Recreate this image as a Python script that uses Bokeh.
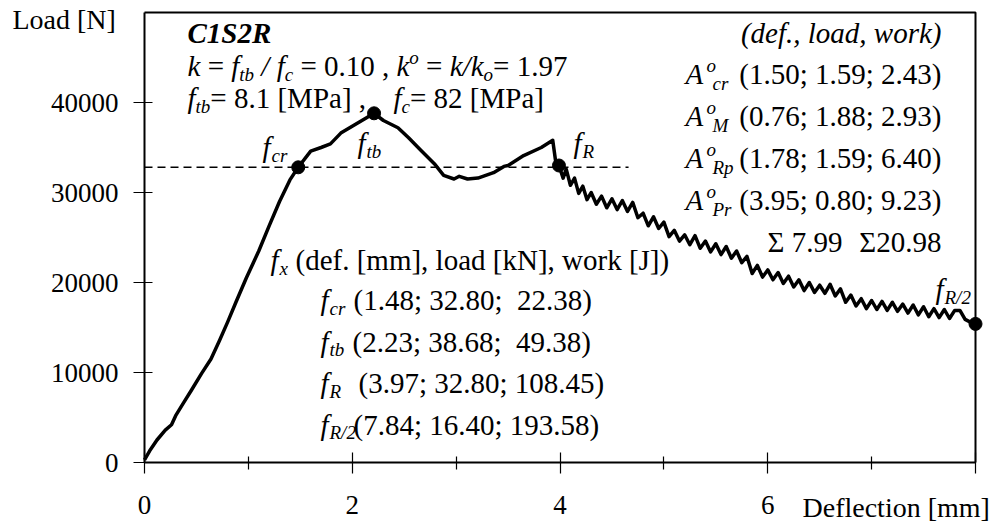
from bokeh.plotting import figure
from bokeh.models import FixedTicker, Range1d
from bokeh.core.properties import value
from bokeh.embed import file_html
from bokeh.resources import INLINE

FONT = "Liberation Serif"

# ---- data (deflection [mm], load [N]) ----
defl = [0.00, 0.05, 0.12, 0.20, 0.26, 0.30, 0.38, 0.45, 0.55, 0.64, 0.72, 0.80, 0.88, 0.98,
        1.10, 1.20, 1.30, 1.40, 1.48, 1.60, 1.70, 1.79, 1.89, 2.02, 2.15, 2.21, 2.30, 2.44,
        2.54, 2.66, 2.79, 2.88, 2.98, 3.03, 3.11, 3.21, 3.36, 3.46, 3.50, 3.65, 3.82, 3.93,
        3.96, 3.99,
        4.03, 4.06, 4.10, 4.14, 4.18, 4.22, 4.26, 4.30, 4.35, 4.40, 4.45, 4.50, 4.55, 4.60,
        4.65, 4.70, 4.75, 4.80, 4.85, 4.90, 4.95, 5.00, 5.05, 5.10, 5.15, 5.20, 5.25, 5.30,
        5.35, 5.40, 5.45, 5.50, 5.55, 5.60, 5.65, 5.70, 5.75, 5.80, 5.85, 5.90, 5.95, 6.00,
        6.05, 6.10, 6.15, 6.20, 6.25, 6.30, 6.35, 6.40, 6.45, 6.50, 6.55, 6.60, 6.65, 6.70,
        6.75, 6.80, 6.85, 6.90, 6.95, 7.00, 7.05, 7.10, 7.15, 7.20, 7.25, 7.30, 7.35, 7.40,
        7.45, 7.50, 7.55, 7.60, 7.65, 7.70, 7.75, 7.80, 7.85, 7.90, 7.95, 8.00]
load = [300, 1300, 2500, 3600, 4200, 5200, 6700, 8000, 9900, 11500, 13500, 15600, 17800, 20500,
        23500, 26300, 29000, 31400, 32800, 34600, 35000, 35400, 36600, 37500, 38400, 38800, 38000, 37200,
        36100, 34700, 33200, 31900, 31500, 31800, 31500, 31600, 32200, 32900, 33000, 34100, 35000, 35800,
        33300, 33000,
        31600, 32600, 30800, 31600, 29900, 30700, 29200, 30000, 28700, 29600, 28300, 29300, 28100, 29100,
        27900, 28900, 27200, 27700, 26300, 27300, 26000, 26700, 25100, 25800, 24600, 25300, 24200, 25200,
        23800, 24600, 23400, 24300, 23100, 24000, 22700, 23500, 22200, 22900, 21000, 21900, 20600, 21400,
        20300, 21100, 19900, 20700, 19500, 20300, 19100, 20000, 18900, 19700, 18800, 19800, 18500, 19300,
        17800, 18600, 17400, 18200, 17100, 18000, 17000, 17900, 16900, 17800, 16800, 17600, 16600, 17500,
        16400, 17300, 16200, 17100, 16100, 17000, 16000, 16900, 16900, 15900, 15600, 15400]

key_x = [1.48, 2.21, 3.99, 8.00]
key_y = [32800, 38800, 33000, 15400]
ref_load = 32800
ref_end = 4.66

x_ticks = [0, 2, 4, 6, 8]
x_minor = [1, 3, 5, 7]
x_overrides = {8: ""}
y_ticks = [0, 10000, 20000, 30000, 40000]

# ---- layout: page pixels of the plotting box ----
W, H = 999, 526
FL, FR, FT, FB = 144, 975, 12, 462
XMAX, YMAX = 8, 50000


def X(px):
    return (px - FL) * XMAX / (FR - FL)


def Y(py):
    return (FB - py) * YMAX / (FB - FT)


p = figure(width=W, height=H, output_backend="svg", toolbar_location=None,
           x_range=Range1d(X(0), X(W)), y_range=Range1d(Y(H), Y(0)),
           min_border=0, min_border_left=0, min_border_right=0,
           min_border_top=0, min_border_bottom=0)
p.xgrid.grid_line_color = None
p.ygrid.grid_line_color = None
p.outline_line_color = None
p.background_fill_color = "white"
p.border_fill_color = "white"

xa = p.xaxis[0]
xa.fixed_location = 0
xa.bounds = (0, XMAX)
xa.ticker = FixedTicker(ticks=x_ticks, minor_ticks=x_minor)
xa.major_label_overrides = x_overrides
xa.axis_line_width = 2
xa.axis_line_color = "black"
xa.major_tick_in = 10
xa.major_tick_out = 11
xa.minor_tick_in = 6
xa.minor_tick_out = 7
xa.major_tick_line_width = 1.2
xa.minor_tick_line_width = 1.2
xa.major_tick_line_color = "black"
xa.minor_tick_line_color = "black"
xa.major_label_standoff = 22
xa.major_label_text_font = FONT
xa.major_label_text_font_size = "27px"
xa.major_label_text_color = "black"

ya = p.yaxis[0]
ya.fixed_location = 0
ya.bounds = (0, YMAX)
ya.ticker = FixedTicker(ticks=y_ticks, minor_ticks=[])
ya.axis_line_width = 2
ya.axis_line_color = "black"
ya.major_tick_in = 8
ya.major_tick_out = 11
ya.major_tick_line_width = 1.2
ya.major_tick_line_color = "black"
ya.major_label_standoff = 15
ya.major_label_text_font = FONT
ya.major_label_text_font_size = "27px"
ya.major_label_text_color = "black"

# box top and right edges
p.line([0, XMAX, XMAX], [YMAX, YMAX, 0], line_width=2, color="black")

# curve, reference line, key points
p.line(defl, load, line_width=3.5, color="black", line_join="round")
p.line([0, ref_end], [ref_load, ref_load], line_width=1.5, color="black", line_dash="8 5")
p.scatter(key_x, key_y, size=13, color="black")

# ---- texts ----
NB = "\u00a0"
runs = []


def run(px, py, txt, style="normal", size=29, align="left"):
    runs.append((X(px), Y(py - 0.32 * size), txt, style, size, align))


REG = {' ': 250, '=': 564, '.': 250, ',': 250, '[': 333, ']': 333, 'M': 889, 'P': 556, 'a': 444}
ITA = {'k': 444, 'f': 278, 't': 278, 'b': 500, 'c': 444, 'o': 500, '/': 278, ' ': 250}


def width(txt, style, size):
    tab = ITA if "italic" in style else REG
    return sum(tab.get(ch, 500) for ch in txt) * size / 1000.0


def flow(x0, base, parts):
    xs = float(x0)
    for txt, st, sz, dyp in parts:
        lead = len(txt) - len(txt.lstrip(" "))
        run(xs + width(" " * lead, st, sz), base + dyp, txt.strip(" "), st, sz)
        xs += width(txt, st, sz)


BIG, SUB = 29, 19
# left block
run(187, 42, "C1S2R", "bold italic")
flow(187, 75, [("k", "italic", BIG, 0), (" = ", "normal", BIG, 0), ("f", "italic", BIG, 0),
               ("tb", "italic", SUB, 5), (" / ", "italic", BIG, 0), ("f", "italic", BIG, 0),
               ("c", "italic", SUB, 5), (" = 0.10 , ", "normal", BIG, 0), ("k", "italic", BIG, 0),
               ("o", "italic", SUB, -12), (" = ", "normal", BIG, 0), ("k/k", "italic", BIG, 0),
               ("o", "italic", SUB, 5), ("= 1.97", "normal", BIG, 0)])
flow(187, 107, [("f", "italic", BIG, 0), ("tb", "italic", SUB, 5),
                ("= 8.1 [MPa] ,", "normal", BIG, 0)])
flow(393, 107, [("f", "italic", BIG, 0), ("c", "italic", SUB, 5),
                ("= 82 [MPa]", "normal", BIG, 0)])

# right block
RX = 941
run(RX, 42, "(def., load, work)", "italic", BIG, "right")
a_subs = ["cr", "M", "Rp", "Pr"]
a_vals = ["(1.50; 1.59; 2.43)", "(0.76; 1.88; 2.93)", "(1.78; 1.59; 6.40)", "(3.95; 0.80; 9.23)"]
for i, (sb, vv) in enumerate(zip(a_subs, a_vals)):
    by = 83 + 42 * i
    run(685, by, "A", "italic")
    run(706, by - 12, "o", "italic", SUB)
    run(712, by + 6, sb, "italic", SUB)
    run(RX, by, vv, "normal", BIG, "right")
run(767, 251, "\u03a3 7.99")
run(RX, 251, "\u03a320.98", "normal", BIG, "right")

# middle block
run(270, 269, "f", "italic")
run(279, 274, "x", "italic", SUB)
run(295, 269, "(def. [mm], load [kN], work [J])")
f_subs = ["cr", "tb", "R", "R/2"]
f_vals = ["(1.48; 32.80;" + NB + " 22.38)", "(2.23; 38.68;" + NB + " 49.38)",
          "(3.97; 32.80; 108.45)", "(7.84; 16.40; 193.58)"]
f_start = [353, 352, 358, 353]
for i, (sb, vv, st) in enumerate(zip(f_subs, f_vals, f_start)):
    by = 309 + 41.5 * i
    run(320, by, "f", "italic")
    run(329, by + 5, sb, "italic", SUB)
    run(st, by, vv)

# point labels
for (fx, fy, sb) in [(262, 156, "cr"), (357, 152, "tb"), (573, 152, "R"), (935, 298, "R/2")]:
    run(fx, fy, "f", "italic")
    run(fx + 9, fy + 5, sb, "italic", SUB)

# texts outside the box
run(12, 28, "Load [N]", "normal", 28)
run(802, 516, "Deflection [mm]", "normal", 28)

groups = {}
for r in runs:
    groups.setdefault((r[3], r[4], r[5]), []).append(r)
for (st, sz, al), rs in groups.items():
    p.text(x=[r[0] for r in rs], y=[r[1] for r in rs], text=[r[2] for r in rs],
           text_font=value(FONT), text_font_size=f"{sz}px", text_font_style=st,
           text_align=al, text_baseline="alphabetic", text_color="black")

open("out.html", "w").write(file_html(p, INLINE))
